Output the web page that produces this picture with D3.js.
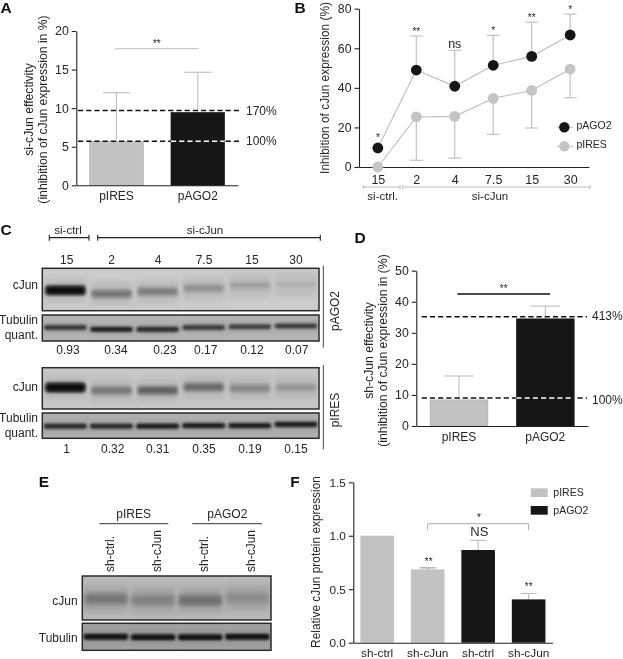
<!DOCTYPE html>
<html><head><meta charset="utf-8">
<script src="https://cdnjs.cloudflare.com/ajax/libs/d3/7.8.5/d3.min.js"></script>
<style>
html,body{margin:0;padding:0;background:#fff}
svg{display:block}
text{font-family:"Liberation Sans",Arial,sans-serif;fill:#262626}
</style></head><body>
<script>
// ---------- data ----------
const vectorsAD = ['pIRES','pAGO2'];
const aValues = [5.65,9.45];
const aErrTop = [12.0,14.65];
const aRefs = [5.7,9.7];
const aRefLabels = ['100%','170%'];
const aTicks = [0,5,10,15,20];
const timeLabels = ['15','2','4','7.5','15','30'];
const pAGO2Line = [9.6,49,40.8,51.4,55.9,66.7];
const pIRESLine = [0,25.3,25.6,34.7,38.7,49.5];
const pAGO2Upper = [null,66.2,59,66.5,73.2,77.3];
const pIRESLower = [null,3.4,4.5,16.5,19.7,35];
const bSig = ['*','**','ns','*','**','*'];
const bTicks = [0,20,40,60,80];
const dValues = [8.4,34.5];
const dErrTop = [16.1,38.6];
const dRefs = [9,35.2];
const dRefLabels = ['100%','413%'];
const dTicks = [0,10,20,30,40,50];
const fCats = ['sh-ctrl','sh-cJun','sh-ctrl','sh-cJun'];
const fValues = [1,0.686,0.867,0.405];
const fErrTop = [null,0.70,0.957,0.461];
const fTicks = [0,0.5,1.0,1.5];
const quantAGO2 = ['0.93','0.34','0.23','0.17','0.12','0.07'];
const quantIRES = ['1','0.32','0.31','0.35','0.19','0.15'];
// blot band darkness 0..1 and relative migration in the strip
const cJunAGO2Dark = [1,.46,.42,.32,.24,.15];
const cJunAGO2Mig = [.52,.6,.55,.47,.4,.38];
const cJunIRESDark = [1,.44,.55,.5,.36,.28];
const cJunIRESMig = [.48,.55,.55,.47,.5,.48];
const tubAGO2Dark = [.75,.85,.8,.72,.68,.72];
const tubIRESDark = [.8,.8,.88,.88,.88,.9];
const tubAGO2Mig = [.48,.55,.55,.48,.45,.42];
const tubIRESMig = [.52,.52,.52,.5,.5,.45];
const eCJunDark = [.42,.36,.46,.3];
const eCJunMig = [.52,.55,.55,.5];
const eTubDark = [.92,.92,.92,.92];
const eTubMig = [.5,.52,.52,.5];

const W=623,H=659;
const INK='#222', GREY='#c2c2c2', BLACK='#161616', ERR='#bdbdbd';
const svg=d3.select('body').append('svg').attr('width',W).attr('height',H);
const defs=svg.append('defs');
[['soft',.45],['b1',.9],['b2',1.7],['b3',2.8],['b5',5]].forEach(([id,s])=>{
  defs.append('filter').attr('id',id).attr('x','-30%').attr('y','-80%').attr('width','160%').attr('height','260%')
    .append('feGaussianBlur').attr('stdDeviation',s);
});
const root=svg.append('g').attr('filter','url(#soft)');
root.append('rect').attr('width',W).attr('height',H).attr('fill','#fff');

function txt(x,y,s,size,anchor='middle',g=root,weight=null){
  return g.append('text').attr('x',x).attr('y',y).attr('dy','.35em').attr('text-anchor',anchor)
    .attr('font-size',size).attr('font-weight',weight).text(s);
}
function rotTxt(x,y,s,size,anchor='middle'){
  return root.append('text').attr('transform',`translate(${x},${y}) rotate(-90)`).attr('dy','.35em')
    .attr('text-anchor',anchor).attr('font-size',size).text(s);
}
function line(x1,y1,x2,y2,c=INK,w=1,dash=null){
  return root.append('line').attr('x1',x1).attr('y1',y1).attr('x2',x2).attr('y2',y2)
    .attr('stroke',c).attr('stroke-width',w).attr('stroke-dasharray',dash);
}
function styleAxis(g,fs){
  g.selectAll('path,line').attr('stroke',INK).attr('stroke-width',1.1);
  g.selectAll('text').attr('font-size',fs).attr('fill','#262626').style('font-family','"Liberation Sans",Arial,sans-serif');
}
function yAxis(x,y,ticks,fmt,fs=12.3){
  const g=root.append('g').attr('transform',`translate(${x},0)`)
    .call(d3.axisLeft(y).tickValues(ticks).tickSize(4.5).tickSizeOuter(0).tickFormat(fmt||d3.format('d')));
  styleAxis(g,fs); g.selectAll('text').attr('x',-7.5); return g;
}
function xAxis(y,x,fmt,fs=12){
  const g=root.append('g').attr('transform',`translate(0,${y})`)
    .call(d3.axisBottom(x).tickSize(0).tickSizeOuter(0).tickFormat(fmt||(d=>d)));
  styleAxis(g,fs); g.selectAll('text').attr('y',6.5); return g;
}
function errBar(x,yTop,yBase,capW,c=ERR){
  line(x,yTop,x,yBase,c,1.1);
  line(x-capW/2,yTop,x+capW/2,yTop,c,1.1);
}

// ---------- Panel letters ----------
[['A',6,8],['B',300,8],['C',6,230],['D',360,238],['E',44,482],['F',295,482]].forEach(([s,x,y])=>
  txt(x,y,s,15.5,'middle',root,'bold').style('fill','#111'));

// ---------- Two-bar panels A and D ----------
function twoBar({range,padI,padO,yr,dom,ticks,vals,tops,refs,labels,labelDy,refX,labelX,capW,sigY,sigX,sigC,sigW,starY,lab,labX,labY}){
  const x=d3.scaleBand().domain(vectorsAD).range(range).paddingInner(padI).paddingOuter(padO);
  const y=d3.scaleLinear().domain(dom).range(yr);
  vectorsAD.forEach((k,i)=>{
    errBar(x(k)+x.bandwidth()/2,y(tops[i]),y(vals[i]),capW);
  });
  root.selectAll(null).data(vals).enter().append('rect')
    .attr('x',(d,i)=>x(vectorsAD[i])).attr('width',x.bandwidth())
    .attr('y',d=>y(d)).attr('height',d=>y(0)-y(d))
    .attr('fill',(d,i)=>i?BLACK:GREY).attr('stroke',(d,i)=>i?BLACK:'#aaa').attr('stroke-width',.6);
  yAxis(range[0],y,ticks);
  xAxis(y(0),x);
  refs.forEach((r,i)=>{
    line(refX[0],y(r),refX[1],y(r),'#111',1.5,'5.2 3');
    const bx=x(vectorsAD[1]);
    if(y(r)>y(vals[1])) line(bx,y(r),bx+x.bandwidth(),y(r),'#fff',1.5,'5.2 3');
    txt(labelX,y(r)+labelDy[i],labels[i],12,'start');
  });
  line(sigX[0],y(sigY),sigX[1],y(sigY),sigC,sigW);
  txt((sigX[0]+sigX[1])/2,y(sigY)+starY,'**',10);
  lab.forEach((s,i)=>rotTxt(labX[i],labY,s,12.2));
}
twoBar({range:[76.3,238],padI:.34,padO:.164,yr:[185.3,31],dom:[0,20],ticks:aTicks,vals:aValues,tops:aErrTop,
  refs:aRefs,labels:aRefLabels,labelDy:[-1,0],refX:[78,241.5],labelX:246,capW:27,sigY:17.7,sigX:[115,198.7],sigC:'#bbb',sigW:1.1,starY:-5,
  lab:['si-cJun effectivity','(inhibition of cJun expression in %)'],labX:[28.3,42.3],labY:109.5});
twoBar({range:[416.3,588],padI:.33,padO:.16,yr:[426,270.7],dom:[0,50],ticks:dTicks,vals:dValues,tops:dErrTop,
  refs:dRefs,labels:dRefLabels,labelDy:[2,-.5],refX:[421.7,587],labelX:592,capW:29,sigY:42.5,sigX:[457.3,550],sigC:'#111',sigW:1.5,starY:-5,
  lab:['sh-cJun effectivity','(inhibition of cJun expression in (%)'],labX:[368.3,382.3],labY:350.5});

// ---------- Panel B ----------
(function(){
  const idx=timeLabels.map((_,i)=>i);
  const x=d3.scalePoint().domain(idx).range([359,589]).padding(.49);
  const y=d3.scaleLinear().domain([0,80]).range([167,8.7]);
  const ln=d3.line().x((d,i)=>x(i)).y(d=>y(d));
  [pIRESLine,pAGO2Line].forEach(s=>root.append('path').attr('d',ln(s)).attr('fill','none').attr('stroke','#bdbdbd').attr('stroke-width',1.1));
  idx.forEach(i=>{
    if(pAGO2Upper[i]!=null) errBar(x(i),y(pAGO2Upper[i]),y(pAGO2Line[i]),13);
    if(pIRESLower[i]!=null) errBar(x(i),y(pIRESLower[i]),y(pIRESLine[i]),13);
  });
  yAxis(359,y,bTicks);
  xAxis(y(0),x,i=>timeLabels[i],12.5).selectAll('text').attr('y',8);
  root.selectAll(null).data(pIRESLine).enter().append('circle').attr('cx',(d,i)=>x(i)).attr('cy',d=>y(d)).attr('r',5.4).attr('fill','#c4c4c4');
  root.selectAll(null).data(pAGO2Line).enter().append('circle').attr('cx',(d,i)=>x(i)).attr('cy',d=>y(d)).attr('r',5.4).attr('fill',BLACK);
  bSig.forEach((s,i)=>{
    const base=pAGO2Upper[i]!=null?y(pAGO2Upper[i]):y(pAGO2Line[i])-6;
    if(s==='ns') txt(x(i),base-7,s,12.5); else txt(x(i),base-4.5,s,10);
  });
  rotTxt(325,88,'Inhibition of cJun expression (%)',11.9);
  [[363.3,400],[402.7,590]].forEach(([a,b])=>{
    line(a,187,b,187,'#bbb',1); line(a,185,a,189,'#bbb',1); line(b,185,b,189,'#bbb',1);
  });
  txt(382.7,195.5,'si-ctrl.',11.5); txt(490,195.5,'si-cJun',11.5);
  [['pAGO2',127.3,BLACK],['pIRES',146.3,'#c4c4c4']].forEach(([s,yy,c])=>{
    line(556.5,yy,573,yy,'#bdbdbd',1);
    root.append('circle').attr('cx',564.3).attr('cy',yy).attr('r',5.2).attr('fill',c);
    txt(576.5,yy-1.5,s,10.5,'start');
  });
})();

// ---------- Western blots ----------
let clipId=0;
function blot({x0,x1,y0,y1,bg,hi,hiOp,dark,mig,core,halo,haloK,bw,blur,smear}){
  const id='cl'+(clipId++);
  defs.append('clipPath').attr('id',id).append('rect').attr('x',x0).attr('y',y0).attr('width',x1-x0).attr('height',y1-y0);
  const g=root.append('g').attr('clip-path',`url(#${id})`);
  g.append('rect').attr('x',x0).attr('y',y0).attr('width',x1-x0).attr('height',y1-y0).attr('fill',bg);
  const lanes=d3.scaleBand().domain(d3.range(dark.length)).range([x0,x1]).paddingInner(bw).paddingOuter(bw/2);
  const yy=d3.scaleLinear().domain([0,1]).range([y0,y1]);
  const col=d3.scaleLinear().domain([0,1]).range([bg,'#0a0a0a']);
  g.selectAll(null).data(dark).enter().append('rect')
    .attr('x',(d,i)=>lanes(i)).attr('width',lanes.bandwidth())
    .attr('y',(d,i)=>yy(mig[i])-smear).attr('height',smear*2).attr('fill',hi).attr('opacity',hiOp).attr('filter','url(#b3)');
  g.selectAll(null).data(dark).enter().append('rect')
    .attr('x',(d,i)=>lanes(i)).attr('width',lanes.bandwidth())
    .attr('y',(d,i)=>yy(mig[i])-halo/2).attr('height',halo).attr('rx',4)
    .attr('fill',d=>col(d*haloK)).attr('filter','url(#b2)');
  g.selectAll(null).data(dark).enter().append('rect')
    .attr('x',(d,i)=>lanes(i)+1.5).attr('width',lanes.bandwidth()-3)
    .attr('y',(d,i)=>yy(mig[i])-core/2*(.6+d*.7)).attr('height',d=>core*(.6+d*.7)).attr('rx',2)
    .attr('fill',d=>col(d)).attr('filter',`url(#${blur})`);
  root.append('rect').attr('x',x0).attr('y',y0).attr('width',x1-x0).attr('height',y1-y0)
    .attr('fill','none').attr('stroke','#2a2a2a').attr('stroke-width',1.5);
}
blot({x0:42.3,x1:319,y0:268.3,y1:310.7,bg:'#cccccc',hi:'#b4b4b4',hiOp:.6,smear:12,dark:cJunAGO2Dark,mig:cJunAGO2Mig,core:6,halo:11,haloK:.5,bw:.1,blur:'b2'});
blot({x0:42.3,x1:319,y0:315,y1:341,bg:'#b6b6b6',hi:'#a6a6a6',hiOp:.5,smear:8,dark:tubAGO2Dark,mig:tubAGO2Mig,core:3.6,halo:6.5,haloK:.45,bw:.04,blur:'b1'});
blot({x0:42.3,x1:319,y0:367.7,y1:409,bg:'#c8c8c8',hi:'#b0b0b0',hiOp:.6,smear:12,dark:cJunIRESDark,mig:cJunIRESMig,core:6,halo:11,haloK:.5,bw:.1,blur:'b2'});
blot({x0:42.3,x1:319,y0:413,y1:438.3,bg:'#b0b0b0',hi:'#a0a0a0',hiOp:.5,smear:8,dark:tubIRESDark,mig:tubIRESMig,core:3.6,halo:6.5,haloK:.45,bw:.03,blur:'b1'});
blot({x0:82.3,x1:271,y0:576,y1:620,bg:'#b8b8b8',hi:'#9e9e9e',hiOp:.7,smear:13,dark:eCJunDark,mig:eCJunMig,core:7,halo:13,haloK:.55,bw:.07,blur:'b3'});
blot({x0:82.3,x1:271,y0:623.3,y1:650.3,bg:'#a2a2a2',hi:'#8f8f8f',hiOp:.5,smear:8,dark:eTubDark,mig:eTubMig,core:4.4,halo:6,haloK:.5,bw:.02,blur:'b1'});

// Panel C annotation
[[49.3,89],[97.7,320.3]].forEach(([a,b])=>{
  line(a,237.7,b,237.7,'#222',1.3); line(a,234.7,a,240.7,'#222',1.1); line(b,234.7,b,240.7,'#222',1.1);
});
txt(68,230,'si-ctrl',11.5); txt(205,230,'si-cJun',11.5);
const cLabelX=[66.7,111.7,158,204,252,296];
timeLabels.forEach((s,i)=>txt(cLabelX[i],260,s,12));
const q1X=[68,116,165,205.7,252,296.7], q2X=[66.7,112.7,157.7,204,250,296];
quantAGO2.forEach((s,i)=>txt(q1X[i],350,s,12));
quantIRES.forEach((s,i)=>txt(q2X[i],449,s,12));
txt(38,285,'cJun',12,'end'); txt(38,320,'Tubulin',12,'end'); txt(38,335,'quant.',12,'end');
txt(38,387,'cJun',12,'end'); txt(38,417.5,'Tubulin',12,'end'); txt(38,432.5,'quant.',12,'end');
line(323.3,265.7,323.3,347.7,'#444',1); line(323.3,365,323.3,449.3,'#444',1);
rotTxt(335,311,'pAGO2',12); rotTxt(335,410,'pIRES',12);

// Panel E annotation
txt(133.7,514,'pIRES',12); txt(227.3,514,'pAGO2',12);
line(99.3,523.7,168.3,523.7,'#333',1); line(192.3,523.7,262,523.7,'#333',1);
[['sh-ctrl.',109.3],['sh-cJun',156.7],['sh-ctrl.',203.3],['sh-cJun',250.7]].forEach(([s,x])=>rotTxt(x,572,s,12,'start'));
txt(77.7,600.7,'cJun',12,'end'); txt(77.7,637.3,'Tubulin',12,'end');

// ---------- Panel F ----------
(function(){
  const x=d3.scaleBand().domain(d3.range(4)).range([353.3,552.5]).paddingInner(.335).paddingOuter(.14);
  const y=d3.scaleLinear().domain([0,1.5]).range([642.7,482.3]);
  fValues.forEach((v,i)=>{ if(fErrTop[i]!=null) errBar(x(i)+x.bandwidth()/2,y(fErrTop[i]),y(v),16,i===1?'#999':ERR); });
  root.selectAll(null).data(fValues).enter().append('rect')
    .attr('x',(d,i)=>x(i)).attr('width',x.bandwidth()).attr('y',d=>y(d)).attr('height',d=>y(0)-y(d))
    .attr('fill',(d,i)=>i<2?GREY:BLACK);
  yAxis(353.3,y,fTicks,d3.format('.1f'),11.8);
  const ax=xAxis(y(0),x,i=>fCats[i],11.8); ax.selectAll('text').attr('y',5.8);
  rotTxt(316,562,'Relative cJun protein expression',11.9);
  const bx=[x(1)+x.bandwidth()/2,x(3)+x.bandwidth()/2], by=y(1.113);
  root.append('path').attr('d',d3.line()([[bx[0],by+6.5],[bx[0],by],[bx[1],by],[bx[1],by+6.5]])).attr('fill','none').attr('stroke','#aaa').attr('stroke-width',1);
  txt(479,517,'*',10);
  txt(479.3,531.7,'NS',13);
  txt(bx[0]+1,561,'**',10); txt(bx[1],586.5,'**',10);
  [['pIRES',GREY,488.3],['pAGO2',BLACK,506]].forEach(([s,c,yy])=>{
    root.append('rect').attr('x',530.7).attr('y',yy).attr('width',17).attr('height',8.7).attr('fill',c);
    txt(553.3,yy+4.3,s,10.5,'start');
  });
})();
</script></body></html>
